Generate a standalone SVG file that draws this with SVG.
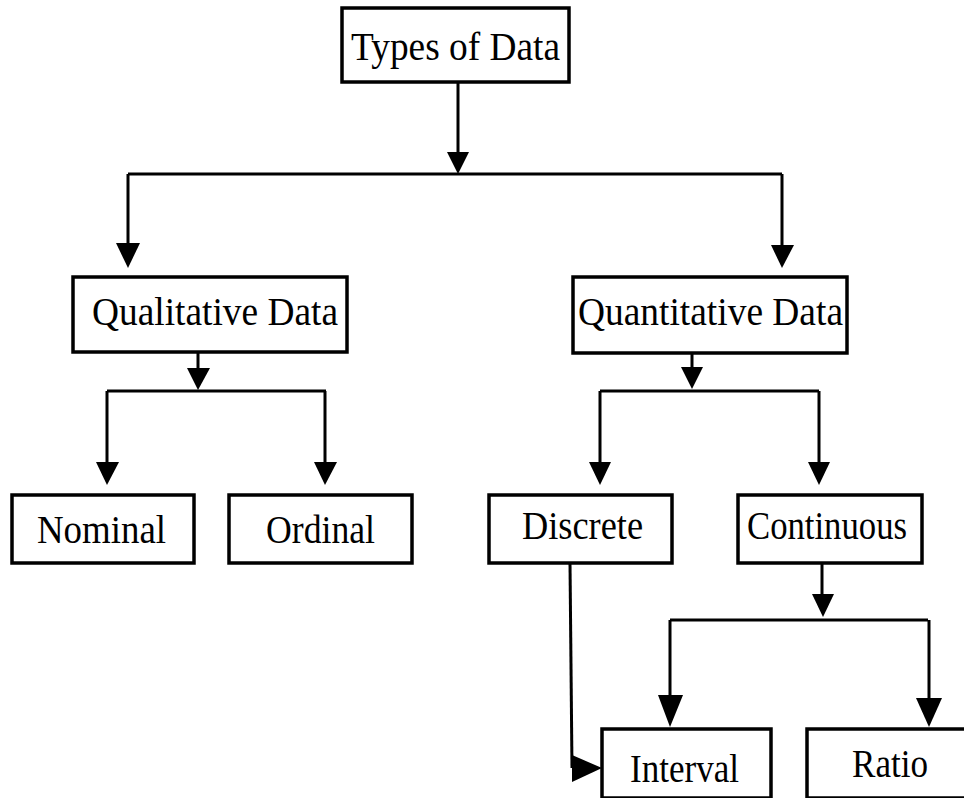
<svg xmlns="http://www.w3.org/2000/svg" width="964" height="798" viewBox="0 0 964 798">
<style>
.box{fill:#fff;stroke:#000;stroke-width:3.5}
.lbl{font-family:"Liberation Serif","Times New Roman",serif;font-size:40px;fill:#000}
.ln{fill:none;stroke:#000;stroke-width:3}
.hd{fill:#000}
</style>
<rect width="964" height="798" fill="#fff"/>
<g id="connectors">
<path class="ln" d="M458 82V160"/>
<polygon class="hd" points="447,152 469,152 458,174"/>
<path class="ln" d="M128 174H782M128 174V250M782 174V250"/>
<polygon class="hd" points="116,243 140,243 128,268"/>
<polygon class="hd" points="771,245 794,245 782,268"/>
<path class="ln" d="M198 352V372"/>
<polygon class="hd" points="187,368 210,368 198,390"/>
<path class="ln" d="M107 391H326M107 391V468M325 391V468"/>
<polygon class="hd" points="96,462 119,462 107,485"/>
<polygon class="hd" points="314,462 337,462 325,485"/>
<path class="ln" d="M692 353V372"/>
<polygon class="hd" points="681,367 703,367 692,389"/>
<path class="ln" d="M600 391H819M600 391V468M819 391V468"/>
<polygon class="hd" points="589,462 611,462 600,485"/>
<polygon class="hd" points="808,462 830,462 819,485"/>
<path class="ln" d="M822 563V600"/>
<polygon class="hd" points="812,594 834,594 823,617"/>
<path class="ln" d="M670 620H928M670 620V705M929 620V705"/>
<polygon class="hd" points="658,695 683,695 670,727"/>
<polygon class="hd" points="916,698 942,698 929,727"/>
<path class="ln" d="M570 563L572 768"/>
<polygon class="hd" points="572,755 602,768 572,782"/>
</g>
<g id="types"><rect class="box" x="342" y="8" width="227" height="74"/><text class="lbl" x="351" y="60" textLength="209" lengthAdjust="spacingAndGlyphs">Types of Data</text></g>
<g id="qualitative"><rect class="box" x="73" y="277" width="274" height="75"/><text class="lbl" x="92" y="325" textLength="246" lengthAdjust="spacingAndGlyphs">Qualitative Data</text></g>
<g id="quantitative"><rect class="box" x="573" y="277" width="274" height="76"/><text class="lbl" x="578" y="325" textLength="265" lengthAdjust="spacingAndGlyphs">Quantitative Data</text></g>
<g id="nominal"><rect class="box" x="12" y="495" width="182" height="68"/><text class="lbl" x="37" y="543" textLength="129" lengthAdjust="spacingAndGlyphs">Nominal</text></g>
<g id="ordinal"><rect class="box" x="229" y="495" width="183" height="68"/><text class="lbl" x="266" y="543" textLength="109" lengthAdjust="spacingAndGlyphs">Ordinal</text></g>
<g id="discrete"><rect class="box" x="489" y="495" width="183" height="68"/><text class="lbl" x="522" y="539" textLength="121" lengthAdjust="spacingAndGlyphs">Discrete</text></g>
<g id="continuous"><rect class="box" x="738" y="495" width="184" height="68"/><text class="lbl" x="747" y="539" textLength="160" lengthAdjust="spacingAndGlyphs">Continuous</text></g>
<g id="interval"><rect class="box" x="602" y="729" width="169" height="69"/><text class="lbl" x="630" y="782" textLength="109" lengthAdjust="spacingAndGlyphs">Interval</text></g>
<g id="ratio"><rect class="box" x="807" y="729" width="170" height="69"/><text class="lbl" x="852" y="777" textLength="76" lengthAdjust="spacingAndGlyphs">Ratio</text></g>
</svg>
